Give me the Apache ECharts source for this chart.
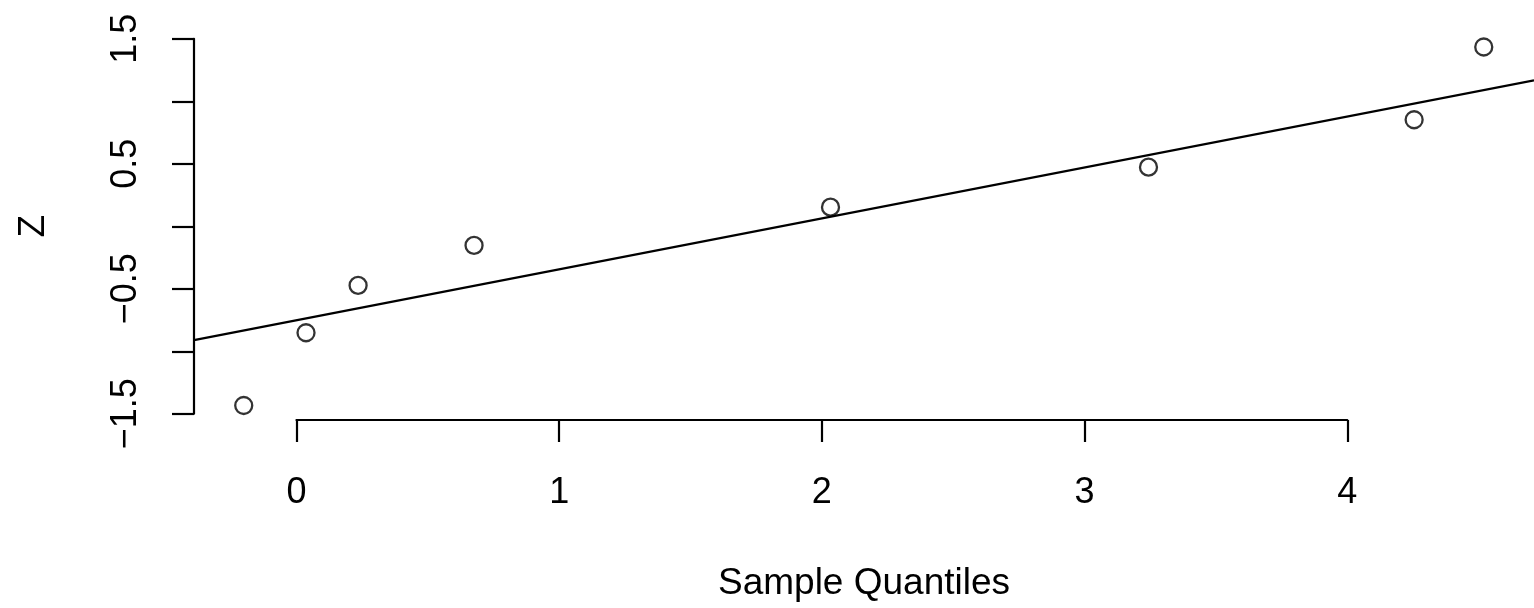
<!DOCTYPE html>
<html>
<head>
<meta charset="utf-8">
<title>Normal Q-Q plot</title>
<script src="https://cdn.jsdelivr.net/npm/echarts@6/dist/echarts.min.js"></script>
<style>
  html, body { margin: 0; padding: 0; background: #fff; }
  #chart { width: 1534px; height: 608px; }
</style>
</head>
<body>
<div id="chart"></div>
<script>
// Sample values (x) against theoretical normal quantiles (Z)
const sampleQuantiles = [-0.200, 0.038, 0.237, 0.680, 2.042, 3.257, 4.272, 4.538];
const zQuantiles = [-1.434, -0.852, -0.473, -0.153, 0.153, 0.473, 0.852, 1.434];

// Reference line through the quartiles: Z = intercept + slope * x
const refIntercept = -0.753;
const refSlope = 0.406;

// Axis ticks and labels
const xTicks = [0, 1, 2, 3, 4];
const xTickLabels = ['0', '1', '2', '3', '4'];
const yTicks = [-1.5, -1.0, -0.5, 0, 0.5, 1.0, 1.5];
const yLabelledTicks = [-1.5, -0.5, 0.5, 1.5];
const yTickLabels = ['\u22121.5', '\u22120.5', '0.5', '1.5'];

// Plot region extent (data units)
const X_MIN = -0.39, X_MAX = 4.73;
const Y_MIN = -1.55, Y_MAX = 1.55;

const FONT = "'Liberation Sans', Arial, Helvetica, sans-serif";
const INK = '#000';

// Plot region in pixels
const plot = { left: 194, top: 32.5, width: (X_MAX - X_MIN) * 262.7, height: (Y_MAX - Y_MIN) * 125 };
const sx = plot.width / (X_MAX - X_MIN);
const sy = plot.height / (Y_MAX - Y_MIN);

// The axes only span their tick range, so each gets its own grid aligned to the plot scale
const xAxisGrid = {
  left: plot.left + (xTicks[0] - X_MIN) * sx,
  width: (xTicks[xTicks.length - 1] - xTicks[0]) * sx,
  top: plot.top,
  height: plot.height
};
const yAxisGrid = {
  left: plot.left,
  width: plot.width,
  top: plot.top + (Y_MAX - yTicks[yTicks.length - 1]) * sy,
  height: (yTicks[yTicks.length - 1] - yTicks[0]) * sy
};

const points = sampleQuantiles.map((x, i) => [x, zQuantiles[i]]);
const refLine = [X_MIN, X_MAX].map(x => [x, refIntercept + refSlope * x]);

const axisLineStyle = { color: INK, width: 2.2 };
const hidden = { show: false };

const option = {
  backgroundColor: '#fff',
  animation: false,
  grid: [
    Object.assign({ containLabel: false }, plot),
    Object.assign({ containLabel: false }, xAxisGrid),
    Object.assign({ containLabel: false }, yAxisGrid)
  ],
  xAxis: [
    {
      gridIndex: 0, type: 'value', min: X_MIN, max: X_MAX,
      axisLine: hidden, axisTick: hidden, axisLabel: hidden, splitLine: hidden,
      name: 'Sample Quantiles', nameLocation: 'middle', nameGap: 145,
      nameTextStyle: { fontSize: 37, color: INK, fontFamily: FONT }
    },
    {
      gridIndex: 1, type: 'value', position: 'bottom',
      min: xTicks[0], max: xTicks[xTicks.length - 1], interval: 1,
      axisLine: { show: true, onZero: false, lineStyle: axisLineStyle },
      axisTick: { show: true, length: 22, lineStyle: axisLineStyle },
      axisLabel: {
        show: true, margin: 55, fontSize: 36, color: INK, fontFamily: FONT,
        showMinLabel: true, showMaxLabel: true,
        formatter: v => { const i = xTicks.indexOf(v); return i >= 0 ? xTickLabels[i] : ''; }
      },
      splitLine: hidden
    },
    { gridIndex: 2, type: 'value', min: X_MIN, max: X_MAX, show: false }
  ],
  yAxis: [
    {
      gridIndex: 0, type: 'value', min: Y_MIN, max: Y_MAX,
      axisLine: hidden, axisTick: hidden, axisLabel: hidden, splitLine: hidden,
      name: 'Z', nameLocation: 'middle', nameGap: 142,
      nameTextStyle: { fontSize: 37, color: INK, fontFamily: FONT }
    },
    { gridIndex: 1, type: 'value', min: Y_MIN, max: Y_MAX, show: false },
    {
      gridIndex: 2, type: 'value', position: 'left',
      min: yTicks[0], max: yTicks[yTicks.length - 1], interval: 0.5,
      axisLine: { show: true, onZero: false, lineStyle: axisLineStyle },
      axisTick: { show: true, length: 22, lineStyle: axisLineStyle },
      axisLabel: {
        show: true, rotate: 90, margin: 50, fontSize: 36, color: INK, fontFamily: FONT,
        showMinLabel: true, showMaxLabel: true,
        formatter: v => {
          const i = yLabelledTicks.findIndex(t => Math.abs(t - v) < 1e-9);
          return i >= 0 ? yTickLabels[i] : '';
        }
      },
      splitLine: hidden
    }
  ],
  series: [
    {
      type: 'line', xAxisIndex: 0, yAxisIndex: 0, data: refLine,
      showSymbol: false, symbol: 'none', silent: true,
      lineStyle: { color: INK, width: 2.2 }, z: 2
    },
    {
      type: 'scatter', xAxisIndex: 0, yAxisIndex: 0, data: points,
      symbol: 'circle', symbolSize: 17, silent: true,
      itemStyle: { color: 'rgba(0,0,0,0)', borderColor: INK, borderWidth: 2.3 }, z: 3
    }
  ]
};

const chart = echarts.init(document.getElementById('chart'), null, { renderer: 'canvas' });
chart.setOption(option);
</script>
</body>
</html>
